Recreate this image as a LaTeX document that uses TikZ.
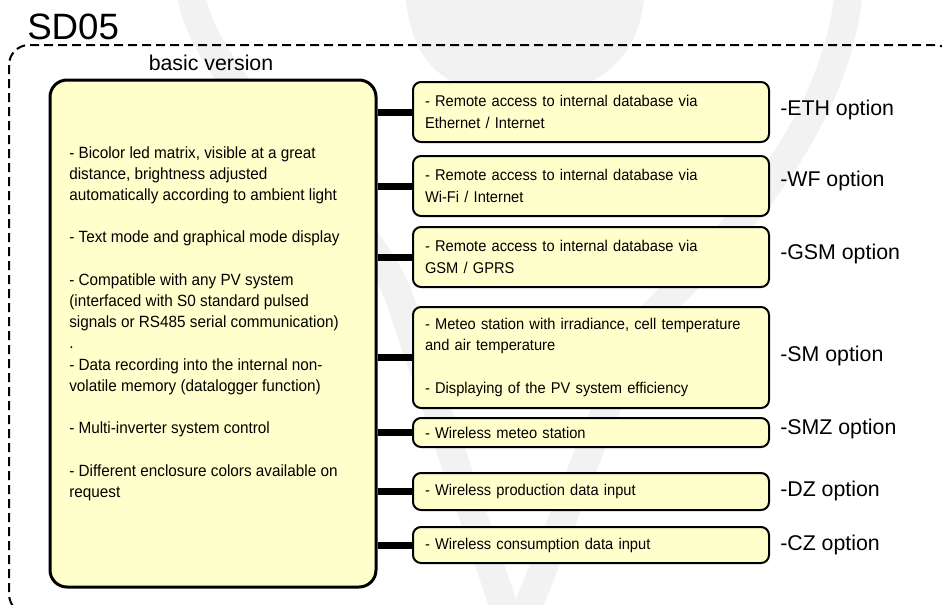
\documentclass[tikz,border=0pt]{standalone}
\usepackage{fontspec}
\setmainfont{Liberation Sans}
\newfontfamily\narrowfont[FakeStretch=0.94]{Liberation Sans}
\definecolor{boxyellow}{RGB}{255,255,204}
\definecolor{wmgrey}{RGB}{242,242,242}

\begin{document}
\begin{tikzpicture}[x=0.75pt, y=-0.75pt]
    \tikzstyle{basebox}=[draw, line width=2.25pt, fill=boxyellow, rounded corners=12.75pt, minimum width=244.5pt, minimum height=380.25pt, inner sep=0pt]
    \tikzstyle{optbox}=[draw, line width=1.5pt, fill=boxyellow, rounded corners=6pt, text width=249pt, inner xsep=9pt, inner ysep=2pt, align=left, font=\narrowfont\fontsize{11.7}{15.9}\selectfont]
    \tikzstyle{optlabel}=[anchor=west, inner sep=0pt, font=\fontsize{16}{19}\selectfont]
    \tikzstyle{link}=[line width=5.25pt]
    \tikzstyle{frame}=[line width=1.5pt, dash pattern=on 6.75pt off 3.75pt, rounded corners=15pt]
    \tikzstyle{watermark}=[line width=21pt, color=wmgrey]

    \clip (0,0) rectangle (942,604);
    \fill[white] (0,0) rectangle (942,604);

    \fill[wmgrey] (405,-10) .. controls (410,60) and (440,95) .. (520,95) .. controls (600,95) and (640,60) .. (645,-10) -- cycle;
    \draw[watermark] (190,-20) .. controls (190,80) and (365,200) .. (400,300) -- (515,640);
    \draw[watermark] (850,-20) .. controls (840,120) and (740,230) .. (637,330) -- (515,640);

    \node[anchor=base west, inner sep=0pt, font=\fontsize{27.5}{30}\selectfont] (title) at (27,39.5) {SD05};
    \draw[frame] (9,45) rectangle (955,614);

    \node[inner sep=0pt, font=\fontsize{16}{19}\selectfont] (basiclbl) at (211,63) {basic version};
    \node[basebox] (basic) at (213,333.5) {};
    \node[anchor=north west, inner sep=0pt, align=left, font=\narrowfont\fontsize{12.2}{15.9}\selectfont] (basictext) at (69,146)
      {- Bicolor led matrix, visible at a great\\distance, brightness adjusted\\automatically according to ambient light\\[15.9pt]
       - Text mode and graphical mode display\\[15.9pt]
       - Compatible with any PV system\\(interfaced with S0 standard pulsed\\signals or RS485 serial communication)\\.\\
       - Data recording into the internal non-\\volatile memory (datalogger function)\\[15.9pt]
       - Multi-inverter system control\\[15.9pt]
       - Different enclosure colors available on\\request};

    \node[optbox, minimum height=45pt] (eth) at (591,112) {- Remote access to internal database via\\Ethernet / Internet};
    \node[optbox, minimum height=45pt] (wf) at (591,186) {- Remote access to internal database via\\Wi-Fi / Internet};
    \node[optbox, minimum height=45pt] (gsm) at (591,257) {- Remote access to internal database via\\GSM / GPRS};
    \node[optbox, minimum height=75.75pt] (sm) at (591,357.5) {- Meteo station with irradiance, cell temperature\\and air temperature\\[15.9pt]- Displaying of the PV system efficiency};
    \node[optbox, minimum height=21.75pt] (smz) at (591,432.5) {- Wireless meteo station};
    \node[optbox, minimum height=27.75pt] (dz) at (591,491.5) {- Wireless production data input};
    \node[optbox, minimum height=27pt] (cz) at (591,545) {- Wireless consumption data input};

    \foreach \opt in {eth, wf, gsm, sm, smz, dz, cz}
      \draw[link] (\opt.west -| basic.east) -- (\opt.west);

    \node[optlabel] (ethlbl) at (780,110) {-ETH option};
    \node[optlabel] (wflbl) at (780,181) {-WF option};
    \node[optlabel] (gsmlbl) at (780,254) {-GSM option};
    \node[optlabel] (smlbl) at (780,356) {-SM option};
    \node[optlabel] (smzlbl) at (780,429) {-SMZ option};
    \node[optlabel] (dzlbl) at (780,491) {-DZ option};
    \node[optlabel] (czlbl) at (780,545) {-CZ option};

\end{tikzpicture}
\end{document}
